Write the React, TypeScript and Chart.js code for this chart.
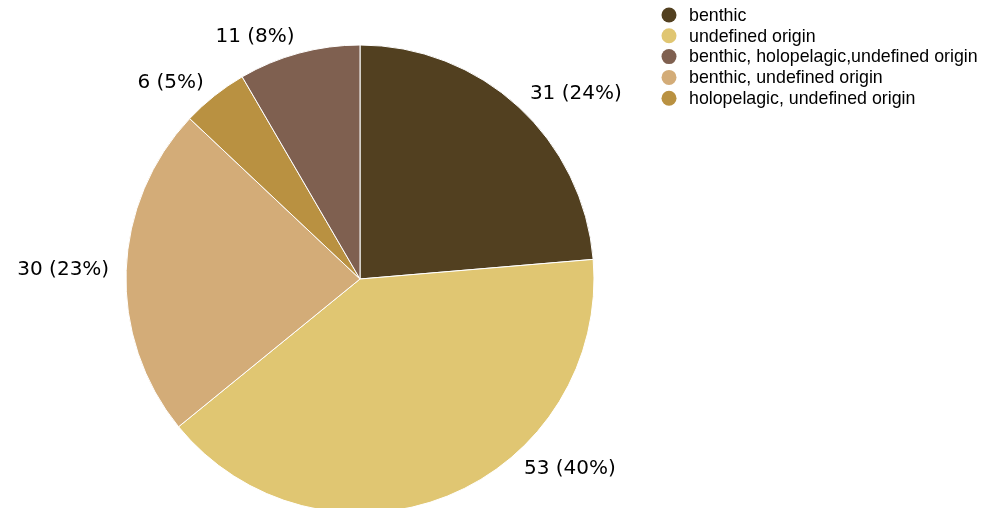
import React, { useEffect, useRef } from "react";
import { Chart, registerables } from "chart.js";

Chart.register(...registerables);

const categories = [
  "benthic",
  "undefined origin",
  "benthic, undefined origin",
  "holopelagic, undefined origin",
  "benthic, holopelagic,undefined origin",
];
const values = [31, 53, 30, 6, 11];
const colors = ["#524020", "#E0C672", "#D3AC78", "#B99141", "#7F6050"];
const legendOrder = [0, 1, 4, 2, 3];

const W = 987;
const H = 508;

const outsideLabels = {
  id: "outsideLabels",
  afterDraw(chart: any) {
    const ctx = chart.ctx;
    const meta = chart.getDatasetMeta(0);
    const data = chart.data.datasets[0].data as number[];
    const total = data.reduce((a, b) => a + b, 0);
    ctx.save();
    ctx.font = '20px "DejaVu Sans"';
    ctx.fillStyle = "#000000";
    ctx.textBaseline = "middle";
    meta.data.forEach((arc: any, i: number) => {
      const mid = (arc.startAngle + arc.endAngle) / 2;
      const cx = arc.x;
      const cy = arc.y;
      const R = arc.outerRadius + 17;
      const dx = Math.cos(mid);
      let y = cy + R * Math.sin(mid);
      const maxY = chart.height - 39;
      const minY = 20;
      y = Math.max(minY, Math.min(maxY, y));
      const ddy = y - cy;
      const off = Math.sqrt(Math.max(0, R * R - ddy * ddy));
      const left = dx < 0;
      const x = cx + (left ? -off : off);
      const text = `${data[i]} (${Math.round((data[i] / total) * 100)}%)`;
      ctx.textAlign = left ? "right" : "left";
      ctx.fillText(text, x, y);
    });
    ctx.restore();
  },
};

const customLegend = {
  id: "customLegend",
  afterDraw(chart: any) {
    const ctx = chart.ctx;
    ctx.save();
    ctx.font = '17.8px "Liberation Sans", Arial, sans-serif';
    ctx.textBaseline = "middle";
    ctx.textAlign = "left";
    legendOrder.forEach((idx, row) => {
      const y = 15 + row * 20.8;
      ctx.beginPath();
      ctx.fillStyle = colors[idx];
      ctx.arc(669, y, 7.5, 0, Math.PI * 2);
      ctx.fill();
      ctx.fillStyle = "#000000";
      ctx.fillText(categories[idx], 689, y + 1);
    });
    ctx.restore();
  },
};

export default function App() {
  const ref = useRef<HTMLCanvasElement>(null);
  useEffect(() => {
    if (!ref.current) return;
    const chart = new Chart(ref.current, {
      type: "pie",
      data: {
        labels: categories,
        datasets: [
          {
            data: values,
            backgroundColor: colors,
            borderColor: "#ffffff",
            borderWidth: 1,
          },
        ],
      },
      options: {
        responsive: false,
        animation: false,
        radius: 234,
        layout: { padding: { left: 126, right: 393, top: 50, bottom: 0 } },
        plugins: {
          legend: { display: false },
          tooltip: { enabled: false },
        },
      },
      plugins: [outsideLabels, customLegend],
    } as any);
    return () => chart.destroy();
  }, []);
  return (
    <div style={{ position: "fixed", left: 0, top: 0, width: W, height: H, background: "#fff" }}>
      <canvas ref={ref} width={W} height={H} style={{ width: W, height: H }} />
    </div>
  );
}
